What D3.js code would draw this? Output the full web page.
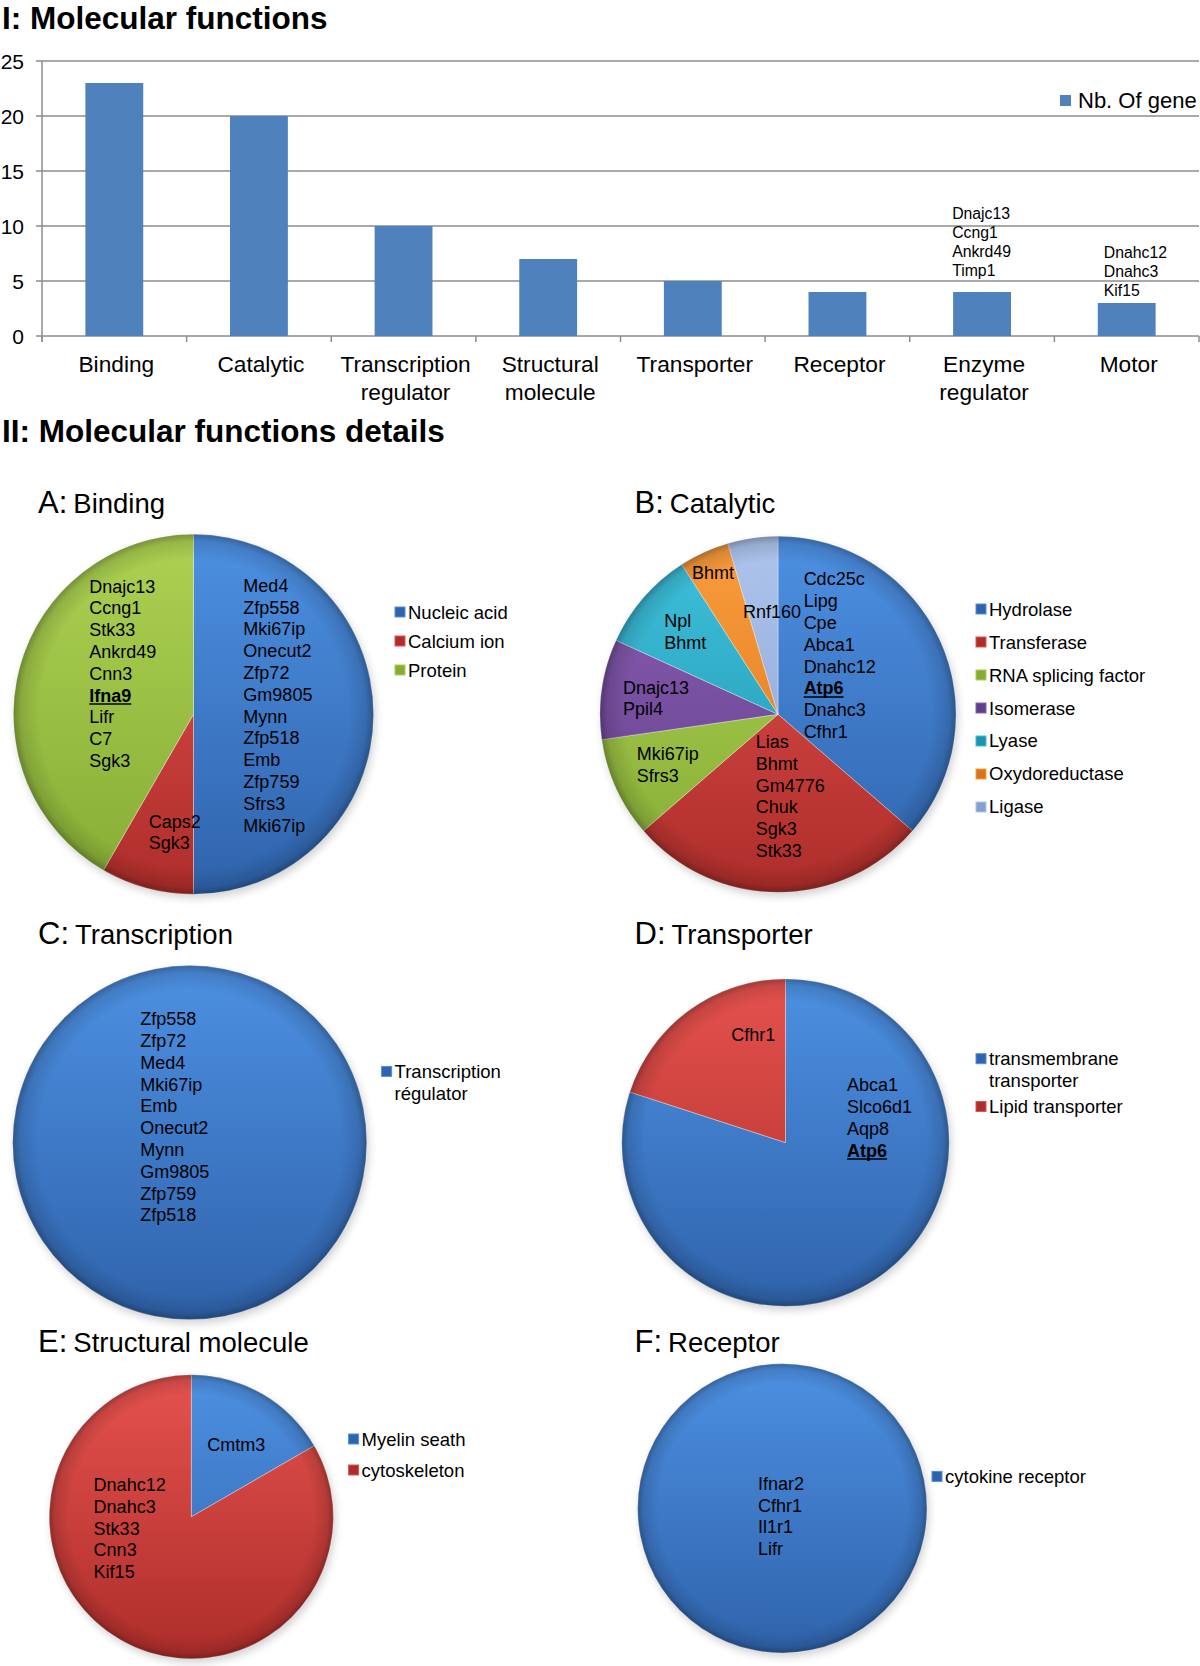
<!DOCTYPE html>
<html><head><meta charset="utf-8">
<script src="https://cdn.jsdelivr.net/npm/d3@7"></script>
<style>body{margin:0;background:#fff;} svg text{font-family:"Liberation Sans",Arial,Helvetica,sans-serif;fill:#000;}</style>
</head><body><svg id="chart" width="1200" height="1666"></svg>
<script>
// ---------------- DATA ----------------
const barCategories = ["Binding","Catalytic","Transcription\nregulator","Structural\nmolecule","Transporter","Receptor","Enzyme\nregulator","Motor"];
const barValues = [23,20,10,7,5,4,4,3];
const yTickValues = [0,5,10,15,20,25];
const barSeriesName = "Nb. Of gene";
const enzymeRegulatorGenes = ["Dnajc13","Ccng1","Ankrd49","Timp1"];
const motorGenes = ["Dnahc12","Dnahc3","Kif15"];
const highlightedGenes = ["Ifna9","Atp6"];

const bindingCategories = ["Nucleic acid","Calcium ion","Protein"];
const bindingValues = [12,2,10];
const bindingGenes = [
  ["Med4","Zfp558","Mki67ip","Onecut2","Zfp72","Gm9805","Mynn","Zfp518","Emb","Zfp759","Sfrs3","Mki67ip"],
  ["Caps2","Sgk3"],
  ["Dnajc13","Ccng1","Stk33","Ankrd49","Cnn3","Ifna9","Lifr","C7","Sgk3"]
];

const catalyticCategories = ["Hydrolase","Transferase","RNA splicing factor","Isomerase","Lyase","Oxydoreductase","Ligase"];
const catalyticValues = [8,6,2,2,2,1,1];
const catalyticGenes = [
  ["Cdc25c","Lipg","Cpe","Abca1","Dnahc12","Atp6","Dnahc3","Cfhr1"],
  ["Lias","Bhmt","Gm4776","Chuk","Sgk3","Stk33"],
  ["Mki67ip","Sfrs3"],
  ["Dnajc13","Ppil4"],
  ["Npl","Bhmt"],
  ["Bhmt"],
  ["Rnf160"]
];

const transcriptionCategories = ["Transcription\nrégulator"];
const transcriptionValues = [10];
const transcriptionGenes = [["Zfp558","Zfp72","Med4","Mki67ip","Emb","Onecut2","Mynn","Gm9805","Zfp759","Zfp518"]];

const transporterCategories = ["transmembrane\ntransporter","Lipid transporter"];
const transporterValues = [4,1];
const transporterGenes = [["Abca1","Slco6d1","Aqp8","Atp6"],["Cfhr1"]];

const structuralCategories = ["Myelin seath","cytoskeleton"];
const structuralValues = [1,5];
const structuralGenes = [["Cmtm3"],["Dnahc12","Dnahc3","Stk33","Cnn3","Kif15"]];

const receptorCategories = ["cytokine receptor"];
const receptorValues = [4];
const receptorGenes = [["Ifnar2","Cfhr1","Il1r1","Lifr"]];

// ---------------- STYLE ----------------
const palette = {
  blue:   ["#4d90e2","#2f63ab"],
  red:    ["#e5524e","#ad2d2a"],
  green:  ["#acd152","#86ac35"],
  purple: ["#8b5eb6","#613f88"],
  cyan:   ["#3fc1dc","#1f92ad"],
  orange: ["#fa9c3c","#d8741b"],
  light:  ["#adc4ec","#879fd0"]
};

const svg = d3.select("#chart");
const defs = svg.append("defs");

const rim = defs.append("radialGradient").attr("id","rim");
rim.append("stop").attr("offset","0%").attr("stop-color","#000").attr("stop-opacity",0);
rim.append("stop").attr("offset","86%").attr("stop-color","#000").attr("stop-opacity",0);
rim.append("stop").attr("offset","96%").attr("stop-color","#000").attr("stop-opacity",0.12);
rim.append("stop").attr("offset","100%").attr("stop-color","#000").attr("stop-opacity",0.3);

const shadow = defs.append("filter").attr("id","shadow").attr("x","-20%").attr("y","-20%").attr("width","140%").attr("height","140%");
shadow.append("feGaussianBlur").attr("stdDeviation",4);

// ---------------- PART I: BAR CHART ----------------
const x = d3.scaleBand().domain(barCategories).range([42,1199]).paddingInner(0.6).paddingOuter(0.3);
const y = d3.scaleLinear().domain([0,25]).range([336,61]);

const gridG = svg.append("g");
gridG.selectAll("line").data(yTickValues).join("line")
  .attr("x1",36).attr("x2",1199)
  .attr("y1",d=>y(d)).attr("y2",d=>y(d))
  .attr("stroke","#8c8c8c").attr("stroke-width",1.5);
svg.append("line").attr("x1",42).attr("x2",42).attr("y1",y(25)).attr("y2",y(0)+6)
  .attr("stroke","#8c8c8c").attr("stroke-width",1.5);
const step = x.step();
svg.append("g").selectAll("line").data(d3.range(barCategories.length+1)).join("line")
  .attr("x1",i=>42+i*step).attr("x2",i=>42+i*step)
  .attr("y1",y(0)).attr("y2",y(0)+6)
  .attr("stroke","#8c8c8c").attr("stroke-width",1.5);

svg.append("g").selectAll("text").data(yTickValues).join("text")
  .attr("x",24).attr("y",d=>y(d)+7.5).attr("text-anchor","end")
  .style("font-size","21px").text(d=>d);

svg.append("g").selectAll("rect").data(barValues).join("rect")
  .attr("x",(d,i)=>x(barCategories[i])).attr("width",x.bandwidth())
  .attr("y",d=>y(d)).attr("height",d=>y(0)-y(d))
  .attr("fill","#4f81bd");

barCategories.forEach(c=>{
  c.split("\n").forEach((ln,j)=>{
    svg.append("text").attr("x",x(c)+x.bandwidth()/2+2).attr("y",372+j*27.5)
      .attr("text-anchor","middle").style("font-size","22.7px").text(ln);
  });
});

function barNote(genes, catIndex, dx, topOffset){
  const c = barCategories[catIndex];
  const x0 = x(c)+dx;
  const yTop = y(barValues[catIndex]) - topOffset - (genes.length-1)*19;
  genes.forEach((g,j)=>{
    svg.append("text").attr("x",x0).attr("y",yTop+j*19).style("font-size","15.8px").text(g);
  });
}
barNote(enzymeRegulatorGenes, 6, -1, 16.5);
barNote(motorGenes, 7, 6, 7);

svg.append("rect").attr("x",1060).attr("y",95).attr("width",11).attr("height",11).attr("fill","#4f81bd");
svg.append("text").attr("x",1078).attr("y",108).style("font-size","22px").text(barSeriesName);

svg.append("text").attr("x",2).attr("y",29).style("font-size","31.5px").style("font-weight","bold").text("I: Molecular functions");
svg.append("text").attr("x",2).attr("y",442).style("font-size","31.5px").style("font-weight","bold").text("II: Molecular functions details");

// ---------------- PART II: PIES ----------------
let gradCount = 0;
function drawPie(cfg){
  const t = svg.append("text").attr("x",cfg.title[0]).attr("y",cfg.title[1]);
  t.append("tspan").style("font-size","31px").text(cfg.letter+":");
  t.append("tspan").attr("dx",6).style("font-size","27.5px").text(cfg.name);

  const g = svg.append("g").attr("transform",`translate(${cfg.cx},${cfg.cy})`);
  const r = cfg.r;
  const gradIds = cfg.colors.map(cn=>{
    const id = "g"+(gradCount++);
    const lg = defs.append("linearGradient").attr("id",id).attr("gradientUnits","userSpaceOnUse")
      .attr("x1",0).attr("y1",-r).attr("x2",0).attr("y2",r);
    lg.append("stop").attr("offset","0%").attr("stop-color",palette[cn][0]);
    lg.append("stop").attr("offset","100%").attr("stop-color",palette[cn][1]);
    return id;
  });
  g.append("circle").attr("cx",2).attr("cy",4).attr("r",r).attr("fill","#000").attr("opacity",0.18).attr("filter","url(#shadow)");
  const arcs = d3.pie().sort(null).value(d=>d)(cfg.values);
  const arc = d3.arc().innerRadius(0).outerRadius(r);
  g.selectAll("path.slice").data(arcs).join("path").attr("class","slice")
    .attr("d",arc).attr("fill",(d,i)=>`url(#${gradIds[i]})`)
    .attr("stroke","rgba(255,255,255,0.35)").attr("stroke-width",1);
  g.append("circle").attr("r",r).attr("fill","url(#rim)");

  cfg.genes.forEach((list,i)=>{
    const [fx,fy] = cfg.labels[i];
    const lx = fx*r, ly = fy*r;
    list.forEach((gn,j)=>{
      const hl = highlightedGenes.includes(gn);
      const tx = g.append("text").attr("x",lx).attr("y",ly+j*21.8).style("font-size","18px").text(gn);
      if(hl){
        tx.style("font-weight","bold");
        const w = tx.node().getComputedTextLength();
        g.append("line").attr("x1",lx).attr("x2",lx+w).attr("y1",ly+j*21.8+2.5).attr("y2",ly+j*21.8+2.5)
          .attr("stroke","#000").attr("stroke-width",1.5);
      }
    });
  });

  cfg.categories.forEach((c,i)=>{
    const ly = cfg.legend[1][i];
    const lx = cfg.legend[0];
    g.append("rect").attr("x",lx-cfg.cx).attr("y",ly-cfg.cy-5).attr("width",10).attr("height",10)
      .attr("fill",palette[cfg.colors[i]][1]).attr("stroke",palette[cfg.colors[i]][0]).attr("stroke-width",1);
    c.split("\n").forEach((ln,j)=>{
      g.append("text").attr("x",lx+13-cfg.cx).attr("y",ly-cfg.cy+6.5+j*22).style("font-size","18.5px").text(ln);
    });
  });
}

drawPie({letter:"A",name:"Binding",title:[38,513],cx:193.5,cy:714.3,r:180,
  values:bindingValues,categories:bindingCategories,genes:bindingGenes,colors:["blue","red","green"],
  labels:[[0.277,-0.681],[-0.249,0.63],[-0.579,-0.676]],
  legend:[395,[612,641,670]]});

drawPie({letter:"B",name:"Catalytic",title:[634.5,513],cx:778,cy:714.3,r:178,
  values:catalyticValues,categories:catalyticCategories,genes:catalyticGenes,
  colors:["blue","red","green","purple","cyan","orange","light"],
  labels:[[0.144,-0.724],[-0.125,0.189],[-0.794,0.259],[-0.871,-0.116],[-0.639,-0.492],[-0.483,-0.761],[-0.197,-0.54]],
  legend:[976,[609,642,675,708,741,774,807]]});

drawPie({letter:"C",name:"Transcription",title:[38,944],cx:189.7,cy:1142.6,r:177,
  values:transcriptionValues,categories:transcriptionCategories,genes:transcriptionGenes,colors:["blue"],
  labels:[[-0.279,-0.663]],
  legend:[381.6,[1071.4]]});

drawPie({letter:"D",name:"Transporter",title:[634.5,944],cx:785.5,cy:1142.6,r:163.7,
  values:transporterValues,categories:transporterCategories,genes:transporterGenes,colors:["blue","red"],
  labels:[[0.376,-0.314],[-0.331,-0.619]],
  legend:[976,[1058.7,1106.5]]});

drawPie({letter:"E",name:"Structural molecule",title:[38,1352],cx:191.3,cy:1516.8,r:142,
  values:structuralValues,categories:structuralCategories,genes:structuralGenes,colors:["blue","red"],
  labels:[[0.113,-0.46],[-0.688,-0.182]],
  legend:[348.6,[1439,1470]]});

drawPie({letter:"F",name:"Receptor",title:[634.5,1352],cx:782.3,cy:1508.3,r:144.6,
  values:receptorValues,categories:receptorCategories,genes:receptorGenes,colors:["blue"],
  labels:[[-0.169,-0.128]],
  legend:[932,[1476.4]]});
</script></body></html>
